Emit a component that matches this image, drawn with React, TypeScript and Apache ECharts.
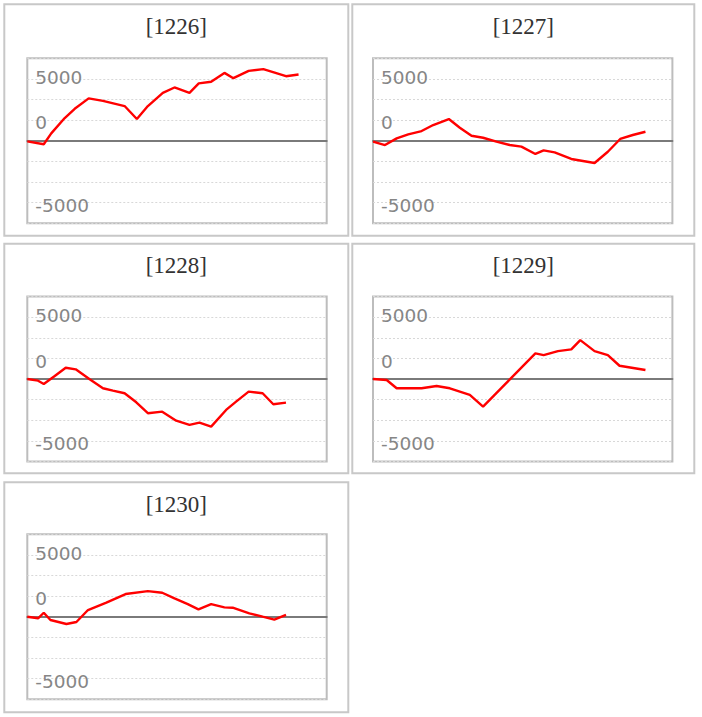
import React, { useEffect, useRef } from "react";
import * as echarts from "echarts";

// Panel titles (dates)
const titles = ["[1226]", "[1227]", "[1228]", "[1229]", "[1230]"];

// x: minutes into the session (axis 0..300), y: value
const t1226 = [0, 16.5, 24, 37.5, 47.5, 61.5, 75.8, 97.5, 109.8, 120.8, 135.8, 147.5, 162.5, 171.8, 184.2, 197.5, 206.5, 221.8, 236.5, 259.2, 271.8];
const v1226 = [-50, -290, 595, 1830, 2580, 3420, 3220, 2800, 1750, 2800, 3870, 4300, 3870, 4630, 4760, 5480, 5050, 5640, 5780, 5210, 5350];

const t1227 = [0, 12, 23.7, 35.3, 48.7, 60.3, 76, 87, 98.7, 110.3, 123.7, 137, 148.7, 162.7, 171, 182, 198.7, 222, 235.3, 247.7, 260.3, 273];
const v1227 = [-80, -350, 190, 515, 780, 1265, 1750, 1050, 400, 240, -80, -350, -480, -1070, -780, -940, -1475, -1800, -890, 140, 460, 725];

const t1228 = [0, 10.8, 16.5, 27.5, 38.5, 48.5, 62.5, 75.8, 85.8, 97.5, 109.2, 120.8, 135.2, 149.2, 162.5, 172.5, 184.2, 199.2, 209.2, 221.8, 235.8, 246.5, 259.2];
const v1228 = [0, -135, -400, 240, 910, 780, -25, -750, -940, -1150, -1880, -2765, -2640, -3365, -3710, -3520, -3845, -2500, -1830, -1020, -1150, -2040, -1910];

const t1229 = [0, 13.7, 23.7, 48.7, 63.7, 77, 97, 110.3, 162.7, 171, 185.3, 198.7, 207.7, 222, 235.3, 247, 273];
const v1229 = [0, -80, -750, -750, -565, -750, -1290, -2230, 2070, 1930, 2255, 2390, 3140, 2255, 1930, 1070, 725];

const t1230 = [0, 10.8, 16.5, 23.2, 39.2, 49.2, 60.8, 79.2, 98.5, 120.8, 135.2, 147.5, 160.8, 171.5, 184.2, 197.5, 205.8, 222.5, 235.8, 247.5, 259.2];
const v1230 = [0, -130, 320, -265, -590, -430, 540, 1130, 1830, 2070, 1935, 1480, 1020, 595, 1020, 755, 725, 275, 0, -240, 140];

const seriesT = [t1226, t1227, t1228, t1229, t1230];
const seriesV = [v1226, v1227, v1228, v1229, v1230];

// y ticks
const yMin = -20000 / 3;
const yMax = 20000 / 3;
const yStep = 5000 / 3;
const yLabels = [5000, 0, -5000];

// layout
const panelX = [4.3, 352.3, 4.3, 352.3, 4.3];
const panelW = [344, 342, 344, 342, 344];
const panelY = [4.3, 4.3, 243.8, 243.8, 482.3];
const panelH = [231.4, 231.4, 229.5, 229.5, 230];
const gridLeft = [27.3, 373, 27.3, 373, 27.3];
const gridTop = [58.2, 58.2, 296.5, 296.5, 534.2];
const gridW = 299.4;
const gridH = 165;

const labelFont = { color: "#868686", fontSize: 18.5, fontFamily: "DejaVu Sans" };

export default function App() {
  const ref = useRef<HTMLDivElement>(null);
  useEffect(() => {
    if (!ref.current) return;
    const chart = echarts.init(ref.current, undefined, { renderer: "svg" });
    const grids: any[] = [];
    const xAxes: any[] = [];
    const yAxes: any[] = [];
    const series: any[] = [];
    const graphics: any[] = [];
    for (let i = 0; i < 5; i++) {
      grids.push({
        left: gridLeft[i],
        top: gridTop[i],
        width: gridW,
        height: gridH,
        show: true,
        borderColor: "#bdbdbd",
        borderWidth: 2,
        backgroundColor: "#fff",
        containLabel: false,
      });
      xAxes.push({
        type: "value",
        gridIndex: i,
        min: 0,
        max: 300,
        axisLine: { show: true, onZero: true, lineStyle: { color: "#7a7a7a", width: 2 } },
        axisTick: { show: false },
        axisLabel: { show: false },
        splitLine: { show: false },
        z: 3,
      });
      yAxes.push({
        type: "value",
        gridIndex: i,
        min: yMin,
        max: yMax,
        interval: yStep,
        axisLine: { show: false },
        axisTick: { show: false },
        splitLine: { show: true, lineStyle: { color: "#d8d8d8", type: [2, 2], width: 1 } },
        axisLabel: {
          inside: true,
          margin: 8,
          ...labelFont,
          showMinLabel: false,
          showMaxLabel: false,
          formatter: (v: number) => {
            const r = Math.round(v);
            const hit = yLabels.find((l) => Math.abs(l - r) < 1);
            if (hit === undefined) return "";
            if (hit === 0) return "{z|0}";
            if (hit > 0) return "{p|" + hit + "}";
            return "{n|" + hit + "}";
          },
          rich: {
            z: { ...labelFont, padding: [0, 0, 36, 0] },
            p: { ...labelFont, padding: [0, 0, 3, 0] },
            n: { ...labelFont, padding: [5, 0, 0, 0] },
          },
        },
      });
      series.push({
        type: "line",
        xAxisIndex: i,
        yAxisIndex: i,
        data: seriesT[i].map((t, k) => [t, seriesV[i][k]]),
        showSymbol: false,
        symbol: "none",
        lineStyle: { color: "#ff0000", width: 2.4 },
        z: 5,
      });
      graphics.push({
        type: "rect",
        shape: { x: panelX[i], y: panelY[i], width: panelW[i], height: panelH[i] },
        style: { fill: "none", stroke: "#c8c8c8", lineWidth: 2 },
        z: -10,
      });
      graphics.push({
        type: "text",
        x: panelX[i] + panelW[i] / 2,
        y: panelY[i] + 22,
        style: {
          text: titles[i],
          fill: "#333",
          font: "23px 'Liberation Serif'",
          align: "center",
          verticalAlign: "middle",
        },
      });
    }
    chart.setOption({
      animation: false,
      backgroundColor: "#fff",
      grid: grids,
      xAxis: xAxes,
      yAxis: yAxes,
      series,
      graphic: graphics,
    });
    return () => chart.dispose();
  }, []);
  return (
    <div
      ref={ref}
      style={{ position: "absolute", left: 0, top: 0, width: 702, height: 717 }}
    />
  );
}
